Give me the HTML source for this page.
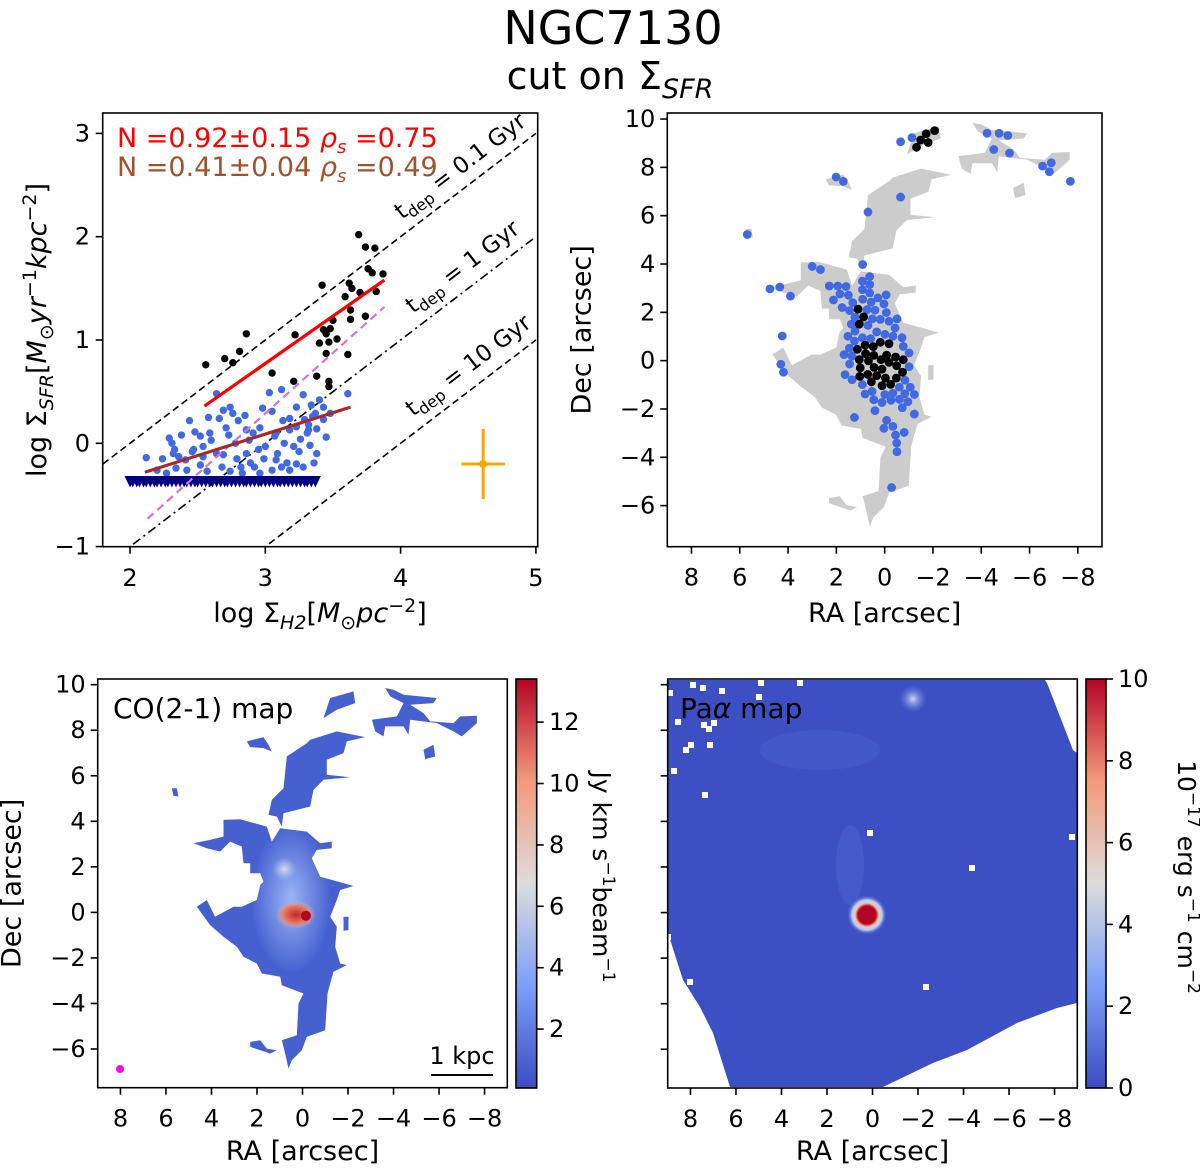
<!DOCTYPE html>
<html><head><meta charset="utf-8"><style>
html,body{margin:0;padding:0;background:#fff}
svg{display:block;font-family:"DejaVu Sans","Liberation Sans",sans-serif}
</style></head><body>
<svg id="fig" width="1200" height="1168" viewBox="0 0 1200 1168" xmlns="http://www.w3.org/2000/svg">
<defs>
<linearGradient id="cw" x1="0" y1="1" x2="0" y2="0">
<stop offset="0" stop-color="#3b4cc0"/><stop offset="0.25" stop-color="#7b9ff9"/><stop offset="0.5" stop-color="#dddcdc"/><stop offset="0.75" stop-color="#f49a7b"/><stop offset="1" stop-color="#b40426"/></linearGradient>
<radialGradient id="coGlow"><stop offset="0" stop-color="#a9c4fd" stop-opacity="0.85"/><stop offset="1" stop-color="#a9c4fd" stop-opacity="0"/></radialGradient>
<radialGradient id="coRed"><stop offset="0" stop-color="#c0282d"/><stop offset="0.6" stop-color="#e8775a"/><stop offset="1" stop-color="#f0b9a0" stop-opacity="0"/></radialGradient>
<radialGradient id="coSpot"><stop offset="0" stop-color="#dcdcdc"/><stop offset="1" stop-color="#a9c4fd" stop-opacity="0"/></radialGradient>
<radialGradient id="paCore"><stop offset="0" stop-color="#b40426"/><stop offset="0.45" stop-color="#b40426"/><stop offset="0.6" stop-color="#f3c7b0"/><stop offset="0.75" stop-color="#b4cdfa"/><stop offset="1" stop-color="#3d50c3" stop-opacity="0"/></radialGradient>
<radialGradient id="paSpot"><stop offset="0" stop-color="#c9d8f5"/><stop offset="1" stop-color="#5f7ee0" stop-opacity="0"/></radialGradient>
<clipPath id="clipTL"><rect x="102.7" y="113" width="435" height="433.7"/></clipPath>
</defs>
<text x="613" y="44" font-size="46" text-anchor="middle">NGC7130</text>
<text x="610" y="89" font-size="38" text-anchor="middle">cut on Σ<tspan font-style="italic" font-size="27" dy="9">SFR</tspan></text>
<g id="tl"></g>
<g id="tr"></g>
<g id="bl"></g>
<g id="br"></g>
</svg>
<script>
const blackX=[2.56,2.70,2.76,2.81,2.86,3.05,3.21,3.22,3.38,3.42,3.43,3.45,3.47,3.40,3.45,3.47,3.47,3.50,3.53,3.61,3.59,3.63,3.64,3.63,3.70,3.62,3.69,3.74,3.81,3.76,3.79,3.87,3.82,3.74,3.48];
const blackY=[0.76,0.82,0.78,0.89,1.06,0.68,0.60,1.05,0.65,1.53,1.10,1.06,0.98,0.97,0.87,0.60,0.55,1.19,1.01,0.86,1.42,1.20,1.50,1.29,1.46,1.55,2.02,1.90,1.89,1.69,1.65,1.64,1.47,1.23,1.11];
const blueX=[2.12,2.24,2.29,2.31,2.33,2.38,2.36,2.44,2.46,2.48,2.52,2.54,2.58,2.60,2.64,2.64,2.66,2.68,2.69,2.71,2.73,2.74,2.76,2.78,2.80,2.82,2.85,2.86,2.88,2.91,2.92,2.95,2.96,2.98,2.99,3.03,3.05,3.07,3.05,3.09,3.12,3.13,3.14,3.16,3.18,3.21,3.23,3.23,3.25,3.26,3.28,3.29,3.31,3.32,3.33,3.34,3.36,3.37,3.38,3.40,3.43,3.45,3.48,3.61,2.20,2.27,2.34,2.42,2.52,2.57,2.74,2.83,2.96,3.12,3.18,3.28,3.35,3.32,3.18,3.00,2.86,2.69,2.59,2.47,2.32,2.41,2.54,2.79,3.08,3.23,3.38,3.43,3.08,2.89];
const blueY=[-0.14,-0.15,0.05,0.00,-0.06,0.08,-0.13,0.22,-0.08,0.11,0.07,-0.03,0.25,0.03,0.48,-0.10,0.24,-0.23,0.32,0.15,0.08,0.35,0.29,0.00,0.22,-0.23,0.27,-0.10,0.03,0.10,-0.23,-0.06,0.15,0.34,-0.15,0.49,0.31,0.07,-0.26,-0.10,0.52,0.22,0.00,-0.19,0.13,-0.03,0.35,-0.20,-0.08,0.04,0.47,0.23,0.10,0.18,-0.02,0.37,-0.19,0.29,0.14,0.42,0.23,0.06,0.29,0.48,-0.26,-0.29,-0.24,-0.26,-0.21,-0.27,-0.27,-0.29,-0.29,-0.23,-0.26,-0.23,0.26,0.13,0.24,-0.03,0.13,-0.11,0.10,-0.06,-0.10,-0.16,-0.13,-0.15,0.10,0.16,-0.10,0.35,-0.16,-0.19];
const upperLimX=[2.00,2.02,2.05,2.07,2.10,2.12,2.15,2.18,2.20,2.23,2.26,2.28,2.31,2.34,2.37,2.40,2.42,2.45,2.48,2.50,2.53,2.56,2.59,2.61,2.64,2.67,2.70,2.72,2.75,2.78,2.81,2.84,2.86,2.89,2.92,2.95,2.97,3.00,3.03,3.06,3.09,3.11,3.14,3.17,3.20,3.23,3.26,3.29,3.31,3.34,3.37];
const upperLimY=-0.37;
const tdepGyr=[0.1,1,10];
const tdepOffsets=[2,3,4];
const fitRed=[[2.55,0.36],[3.88,1.58]];
const fitBrown=[[2.11,-0.28],[3.63,0.35]];
const fitViolet=[[2.13,-0.73],[3.88,1.32]];
const errPoint=[4.61,-0.20,0.16,0.34];
const tlXTicks=[2,3,4,5];
const tlYTicks=[-1,0,1,2,3];
const mapBlueRA=[-0.66,-1.13,-4.24,-4.74,-5.10,-4.52,-5.17,-6.54,-6.90,-6.82,-7.69,2.01,1.71,-0.66,0.69,5.69,0.91,3.00,2.66,4.75,4.34,3.90,4.24,4.30,4.19,1.25,-0.29,
0.62,0.92,0.62,2.29,1.94,1.60,0.92,0.62,1.85,1.50,-0.06,2.12,1.32,0.91,0.56,0.28,0.03,1.76,1.45,0.73,0.40,-0.07,1.23,0.88,0.51,0.18,-0.18,-0.51,1.38,0.69,-0.43,1.23,0.33,-0.01,-0.34,-0.72,1.52,1.25,0.92,0.58,1.46,-0.77,-1.01,1.68,1.35,1.45,-1.01,1.64,1.35,0.92,-0.84,-0.61,-1.06,0.52,0.81,-0.01,-0.34,-0.83,-1.23,0.45,0.11,-0.26,-0.61,-0.96,-0.73,0.40,-1.23,-0.08,-0.34,0.03,-0.45,-0.81,-0.50,-0.51];
const mapBlueDec=[9.06,9.23,9.41,9.41,9.32,8.74,8.59,8.05,8.19,7.82,7.42,7.60,7.42,6.77,6.15,5.22,3.98,3.90,3.77,2.97,3.05,2.67,1.02,-0.15,-0.48,-2.35,-5.25,
3.48,3.29,3.15,3.09,3.09,3.07,2.94,2.80,2.76,2.71,2.72,2.51,2.40,2.54,2.42,2.60,2.35,2.20,2.07,2.11,2.09,1.99,1.80,1.80,1.73,1.71,1.63,1.73,1.51,1.46,1.35,1.22,1.19,1.09,1.01,0.95,1.01,0.81,0.95,0.91,0.52,0.59,0.32,0.25,0.19,-0.14,-0.25,-0.58,-0.79,-0.99,-0.81,-1.10,-1.10,-1.27,-1.38,-1.40,-1.35,-1.37,-1.40,-1.62,-1.73,-1.64,-1.60,-1.70,-1.95,-2.07,-2.21,-2.47,-2.72,-2.80,-3.08,-2.97,-3.41,-3.77];
const mapBlackRA=[1.10,0.87,1.05,1.13,0.81,0.47,0.18,-0.18,1.05,0.79,0.45,0.15,-0.08,-0.45,-0.77,1.01,0.67,0.44,0.11,-0.18,-0.50,-0.74,1.03,0.70,0.33,-0.03,-0.48,0.55,0.11,-0.25,-1.32,-1.49,-1.72,-1.80,-2.07];
const mapBlackDec=[2.13,1.81,1.51,0.47,0.64,0.58,0.76,0.70,0.04,0.29,0.22,0.04,0.23,0.15,0.04,-0.30,-0.01,-0.28,-0.35,-0.07,-0.21,-0.48,-0.65,-0.57,-0.62,-0.72,-0.72,-0.88,-1.04,-0.98,8.83,9.13,9.39,9.03,9.52];
const raTicks=[8,6,4,2,0,-2,-4,-6,-8];
const decTicks=[10,8,6,4,2,0,-2,-4,-6];
const coCbarTicks=[2,4,6,8,10,12];
const paCbarTicks=[0,2,4,6,8,10];
const maskTrace=[
[535,465,545,420,580,385,590,290,650,250,660,240,740,215,825,232,770,245,760,280,710,300,710,345,780,352,700,360,670,390,660,440,620,450,580,460,575,500,560,470],
[400,480,450,478,530,500,545,545,570,505,650,515,690,550,725,545,725,565,680,570,665,595,690,650,745,665,790,678,750,690,740,720,720,770,740,800,735,860,750,910,770,915,730,935,720,970,712,1000,705,1110,650,1130,635,1170,605,1200,595,1225,585,1180,575,1140,620,1125,625,1030,640,1000,575,975,570,950,515,940,500,910,460,890,440,860,400,830,360,795,320,740,350,720,375,770,430,740,455,740,500,720,510,675,520,665,510,640,480,640,480,610,460,610,455,560,420,545,390,575,350,565,310,550,360,540,400,530],
[720,115,790,95,795,130,740,150,700,175],
[885,85,910,90,940,105,1040,115,1030,130,960,135,1000,160,1020,185,1090,190,1110,170,1160,168,1160,190,1115,230,1090,215,1040,190,960,180,955,225,940,200,885,200,880,230,855,215,845,180,920,170,940,130,900,110],
[1000,270,1030,255,1035,290,1005,298],
[470,245,520,232,535,255,545,275,520,265,480,262],
[245,385,260,385,265,410,250,408],
[480,1145,510,1140,530,1165,560,1170,540,1180,480,1160],
[760,770,775,770,775,810,760,812]];
const maskArcsec=maskTrace.map(p=>{const o=[];for(let i=0;i<p.length;i+=2)o.push([(637-p[i])/68.25,(757-p[i+1])/68.2]);return o;});

const NS='http://www.w3.org/2000/svg';
function mk(parent,tag,attrs,text){const e=document.createElementNS(NS,tag);for(const k in attrs)e.setAttribute(k,attrs[k]);if(text!==undefined)e.textContent=text;parent.appendChild(e);return e;}
const fmt=v=>v<0?'\u2212'+(-v):''+v;
const TF=24;

const TL=document.getElementById('tl');
const tx=X=>130+(X-2)*135.3, ty=Y=>443.3-Y*103.3;
const tlPlot=mk(TL,'g',{'clip-path':'url(#clipTL)'});


tdepOffsets.forEach((off,i)=>{
  const l=mk(tlPlot,'line',{x1:tx(1.8),y1:ty(1.8-off),x2:tx(5),y2:ty(5-off),stroke:'#000','stroke-width':1.6,'stroke-dasharray':i===1?'9,4,2,4':'7,4'});
  
  
});
blueX.forEach((x,i)=>{const c=mk(tlPlot,'circle',{cx:tx(x),cy:ty(blueY[i]),r:3.7,fill:'#4169e1'});
  
  });
upperLimX.forEach(x=>{const cx=tx(x),cy=ty(upperLimY);
  const t=mk(tlPlot,'path',{d:`M${cx-5.5},${cy-5.5}L${cx+5.5},${cy-5.5}L${cx},${cy+6}Z`,fill:'#000080'});
  
  });
blackX.forEach((x,i)=>{const c=mk(tlPlot,'circle',{cx:tx(x),cy:ty(blackY[i]),r:3.7,fill:'#000'});
  
  });
[[fitViolet,'#da70d6',2.2,'8,5','violet-fit-line'],[fitRed,'#ff0000',3.2,'','red-fit-line'],[fitBrown,'#a52a2a',3.2,'','brown-fit-line']].forEach(f=>{
  const a={x1:tx(f[0][0][0]),y1:ty(f[0][0][1]),x2:tx(f[0][1][0]),y2:ty(f[0][1][1]),stroke:f[1],'stroke-width':f[2]};
  if(f[3])a['stroke-dasharray']=f[3];
  const l=mk(tlPlot,'line',a);
  
  });
{const [ex,ey,dx,dy]=errPoint;
 const g=mk(tlPlot,'g',{stroke:'#ffa500','stroke-width':3});
 
 
 mk(g,'line',{x1:tx(ex-dx),y1:ty(ey),x2:tx(ex+dx),y2:ty(ey)});
 mk(g,'line',{x1:tx(ex),y1:ty(ey-dy),x2:tx(ex),y2:ty(ey+dy)});
 mk(g,'circle',{cx:tx(ex),cy:ty(ey),r:4,fill:'#ffa500',stroke:'none'});}
const ang=-Math.atan(103.3/135.3)*180/Math.PI;
[['0.1',402,220],['1',413,314],['10',413,417]].forEach(a=>{
  const t=mk(TL,'text',{x:a[1],y:a[2],'font-size':23,transform:`rotate(${ang} ${a[1]} ${a[2]})`});
  
  
  t.innerHTML=`t<tspan font-size="16" dy="5">dep</tspan><tspan dy="-5"> = ${a[0]} Gyr</tspan>`;});
mk(TL,'rect',{x:102.7,y:113,width:435,height:433.7,fill:'none',stroke:'#000','stroke-width':1.6});
tlXTicks.forEach(v=>{mk(TL,'line',{x1:tx(v),y1:546.7,x2:tx(v),y2:553.7,stroke:'#000','stroke-width':1.6});
  const t=mk(TL,'text',{x:tx(v),y:586,'font-size':TF,'text-anchor':'middle'},fmt(v));
  
  });
tlYTicks.forEach(v=>{mk(TL,'line',{x1:95.7,y1:ty(v),x2:102.7,y2:ty(v),stroke:'#000','stroke-width':1.6});
  const t=mk(TL,'text',{x:90,y:ty(v)+8,'font-size':TF,'text-anchor':'end'},fmt(v));
  
  });
{const t=mk(TL,'text',{x:117,y:147,'font-size':27,fill:'#ff0000'});
 
 
 t.innerHTML='N =0.92±0.15 <tspan font-style="italic">ρ</tspan><tspan font-style="italic" font-size="18" dy="6">s</tspan><tspan dy="-6"> =0.75</tspan>';
 const t2=mk(TL,'text',{x:117,y:176,'font-size':27,fill:'#a0522d'});
 
 
 t2.innerHTML='N =0.41±0.04 <tspan font-style="italic">ρ</tspan><tspan font-style="italic" font-size="18" dy="6">s</tspan><tspan dy="-6"> =0.49</tspan>';
 const xl=mk(TL,'text',{x:320,y:622,'font-size':27,'text-anchor':'middle'});
 
 
 xl.innerHTML='log Σ<tspan font-style="italic" font-size="19" dy="7">H2</tspan><tspan dy="-7">[</tspan><tspan font-style="italic">M</tspan><tspan font-size="19" dy="7">⊙</tspan><tspan font-style="italic" dy="-7">pc</tspan><tspan font-size="19" dy="-10">−2</tspan><tspan dy="10">]</tspan>';
 const yl=mk(TL,'text',{x:0,y:0,'font-size':27,'text-anchor':'middle',transform:'translate(46 330) rotate(-90)'});
 
 
 yl.innerHTML='log Σ<tspan font-style="italic" font-size="19" dy="7">SFR</tspan><tspan dy="-7">[</tspan><tspan font-style="italic">M</tspan><tspan font-size="19" dy="7">⊙</tspan><tspan font-style="italic" dy="-7">yr</tspan><tspan font-size="19" dy="-10">−1</tspan><tspan font-style="italic" dy="10">kpc</tspan><tspan font-size="19" dy="-10">−2</tspan><tspan dy="10">]</tspan>';}

function mapAxes(G,L,T,W,H,labelTicksY,ylab,xlabY){
  const sx=W/18, sy=H/17.95;
  const px=ra=>L+(9-ra)*sx, py=d=>T+(10.25-d)*sy;
  raTicks.forEach(v=>{mk(G,'line',{x1:px(v),y1:T+H,x2:px(v),y2:T+H+7,stroke:'#000','stroke-width':1.6});
    const t=mk(G,'text',{x:px(v),y:T+H+39,'font-size':TF,'text-anchor':'middle'},fmt(v));
    
    });
  decTicks.forEach(v=>{mk(G,'line',{x1:L-7,y1:py(v),x2:L,y2:py(v),stroke:'#000','stroke-width':1.6});
    if(labelTicksY){const t=mk(G,'text',{x:L-12,y:py(v)+8,'font-size':TF,'text-anchor':'end'},fmt(v));
    
    }});
  const xl=mk(G,'text',{x:L+W/2,y:xlabY,'font-size':27,'text-anchor':'middle'},'RA [arcsec]');
  
  
  if(ylab){const yl=mk(G,'text',{x:0,y:0,'font-size':27,'text-anchor':'middle',transform:`translate(${L-77} ${T+H/2}) rotate(-90)`},'Dec [arcsec]');
    
    }
  return [px,py];
}
function drawMask(G,px,py,fill){maskArcsec.forEach(poly=>{
  const p=mk(G,'polygon',{points:poly.map(q=>px(q[0]).toFixed(1)+','+py(q[1]).toFixed(1)).join(' '),fill:fill});
  
  });}

{const G=document.getElementById('tr');
 const L=667.3,T=113,W=434.7,H=433.7;
 const sx=W/18, sy=H/17.95; const px=ra=>L+(9-ra)*sx, py=d=>T+(10.25-d)*sy;
 drawMask(G,px,py,'#cccccc');
 mapBlueRA.forEach((r,i)=>{const c=mk(G,'circle',{cx:px(r),cy:py(mapBlueDec[i]),r:4.4,fill:'#4169e1'});
   
   });
 mapBlackRA.forEach((r,i)=>{const c=mk(G,'circle',{cx:px(r),cy:py(mapBlackDec[i]),r:4.4,fill:'#000'});
   
   });
 mk(G,'rect',{x:L,y:T,width:W,height:H,fill:'none',stroke:'#000','stroke-width':1.6});
 mapAxes(G,L,T,W,H,true,true,622);}

{const G=document.getElementById('bl');
 const L=97.7,T=679,W=409.6,H=408.7;
 const sx=W/18, sy=H/17.95; const px=ra=>L+(9-ra)*sx, py=d=>T+(10.25-d)*sy;
 const cp=mk(G,'clipPath',{id:'coclip'});
 maskArcsec.forEach(poly=>mk(cp,'polygon',{points:poly.map(q=>px(q[0]).toFixed(1)+','+py(q[1]).toFixed(1)).join(' ')}));
 drawMask(G,px,py,'#4660d0');
 const gl=mk(G,'g',{'clip-path':'url(#coclip)'});
 mk(gl,'ellipse',{cx:px(0.5),cy:py(0.6),rx:40,ry:75,fill:'url(#coGlow)'});
 mk(gl,'circle',{cx:px(0.8),cy:py(1.9),r:12,fill:'url(#coSpot)'});
 const red=mk(gl,'ellipse',{cx:px(0.3),cy:py(-0.1),rx:20,ry:14,fill:'url(#coRed)'});
 
 
 mk(gl,'circle',{cx:px(-0.15),cy:py(-0.15),r:5,fill:'#b40426'});
 const t=mk(G,'text',{x:113,y:718,'font-size':28},'CO(2-1) map');
 
 
 const sb=mk(G,'line',{x1:431,y1:1075,x2:493,y2:1075,stroke:'#000','stroke-width':2});
 
 
 const st=mk(G,'text',{x:462,y:1064,'font-size':24,'text-anchor':'middle'},'1 kpc');
 
 
 const bm=mk(G,'circle',{cx:120,cy:1069,r:4,fill:'#ff00ff'});
 
 
 mk(G,'rect',{x:L,y:T,width:W,height:H,fill:'none',stroke:'#000','stroke-width':1.6});
 mapAxes(G,L,T,W,H,true,true,1160);
 const cb=mk(G,'rect',{x:516,y:679,width:20.7,height:409,fill:'url(#cw)',stroke:'#000','stroke-width':1.6});
 
 
 const cy=v=>1090.5-v*30.7;
 coCbarTicks.forEach(v=>{mk(G,'line',{x1:536.7,y1:cy(v),x2:543.7,y2:cy(v),stroke:'#000','stroke-width':1.6});
   const tt=mk(G,'text',{x:549,y:cy(v)+8,'font-size':TF},v);
   
   });
 const cl=mk(G,'text',{x:0,y:0,'font-size':25,'text-anchor':'middle',transform:'translate(593 877) rotate(90)'});
 
 
 cl.innerHTML='Jy km s<tspan font-size="17" dy="-10">−1</tspan><tspan dy="10">beam</tspan><tspan font-size="17" dy="-10">−1</tspan>';}

{const G=document.getElementById('br');
 const L=667.7,T=679,W=409.6,H=409;
 const fp=mk(G,'polygon',{points:'668,692 668,680 1045,680 1047,683 1073,750 1077,753 1077,1003 1057,1008 1017,1023 967,1050 933,1063 883,1087 730,1087 713,1033 700,1007 683,980 668,933',fill:'#3d50c3'});
 
 
 mk(G,'ellipse',{cx:820,cy:750,rx:60,ry:20,fill:'#4d66d4',opacity:0.35});
 mk(G,'ellipse',{cx:850,cy:865,rx:14,ry:40,fill:'#4d66d4',opacity:0.45});
 mk(G,'circle',{cx:913,cy:699,r:14,fill:'url(#paSpot)'});
 const core=mk(G,'circle',{cx:867,cy:915,r:20,fill:'url(#paCore)'});
 
 
 [[690,682],[700,685],[758,680],[797,680],[719,688],[756,694],[667,690],[701,722],[675,719],[706,726],[683,747],[707,742],[688,742],[671,768],[702,792],[867,830],[969,865],[923,984],[1069,834],[687,979],[711,720],[665,934]].forEach(p=>mk(G,'rect',{x:p[0],y:p[1],width:6,height:6,fill:'#fff'}));
 const t=mk(G,'text',{x:680,y:718,'font-size':28});
 
 
 t.innerHTML='Pa<tspan font-style="italic">α</tspan> map';
 mk(G,'rect',{x:L,y:T,width:W,height:H,fill:'none',stroke:'#000','stroke-width':1.6});
 mapAxes(G,L,T,W,H,false,false,1160);
 const cb=mk(G,'rect',{x:1086,y:679,width:20,height:409,fill:'url(#cw)',stroke:'#000','stroke-width':1.6});
 
 
 const cy=v=>1088-v*40.9;
 paCbarTicks.forEach(v=>{mk(G,'line',{x1:1106,y1:cy(v),x2:1113,y2:cy(v),stroke:'#000','stroke-width':1.6});
   const tt=mk(G,'text',{x:1118,y:cy(v)+8,'font-size':TF},v);
   
   });
 const cl=mk(G,'text',{x:0,y:0,'font-size':25,'text-anchor':'middle',transform:'translate(1178 877) rotate(90)'});
 
 
 cl.innerHTML='10<tspan font-size="17" dy="-10">−17</tspan><tspan dy="10"> erg s</tspan><tspan font-size="17" dy="-10">−1</tspan><tspan dy="10"> cm</tspan><tspan font-size="17" dy="-10">−2</tspan>';}
</script>
</body></html>
